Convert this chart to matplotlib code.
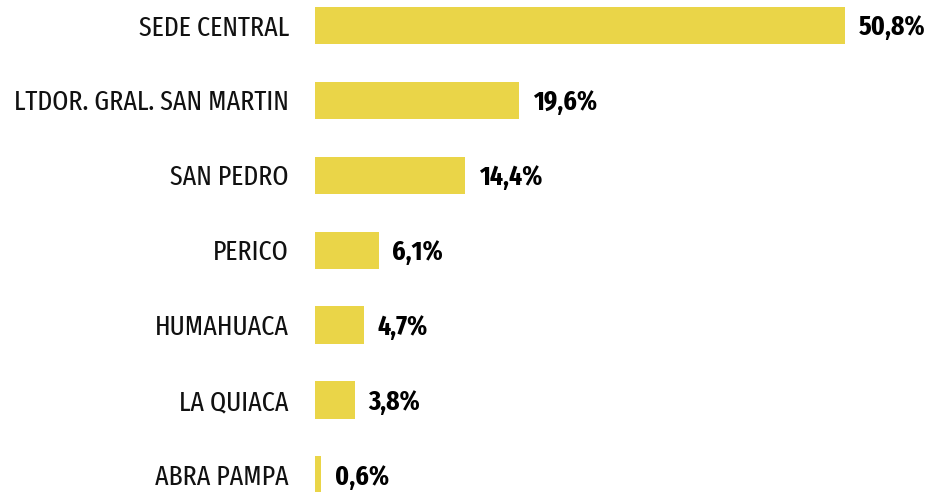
import matplotlib
matplotlib.use('Agg')
import matplotlib.pyplot as plt

# data
sedes = ['SEDE CENTRAL', 'LTDOR. GRAL. SAN MARTIN', 'SAN PEDRO', 'PERICO',
         'HUMAHUACA', 'LA QUIACA', 'ABRA PAMPA']
porcentajes = [50.8, 19.6, 14.4, 6.1, 4.7, 3.8, 0.6]
etiquetas = ['50,8%', '19,6%', '14,4%', '6,1%', '4,7%', '3,8%', '0,6%']

fuente = ['Fira Sans Extra Condensed', 'DejaVu Sans']

fig = plt.figure(figsize=(9.33, 4.92), dpi=100)
ax = fig.add_axes([315 / 933, 0, 618 / 933, 1])

pos = list(range(len(sedes)))
ax.barh(pos, porcentajes, height=0.5, color='#EAD548')
ax.set_xlim(0, 59.25)
ax.set_ylim(6.227, -0.34)

for p, v, lab in zip(pos, porcentajes, etiquetas):
    ax.text(v + 1.3, p + 0.03, lab, va='center', ha='left', fontsize=20,
            fontweight='bold', family=fuente, color='black')
    ax.text(-2.5, p + 0.03, sedes[p], va='center', ha='right', fontsize=20.2,
            family=fuente, color='#111111')

ax.axis('off')
fig.savefig('out.png', dpi=100)
